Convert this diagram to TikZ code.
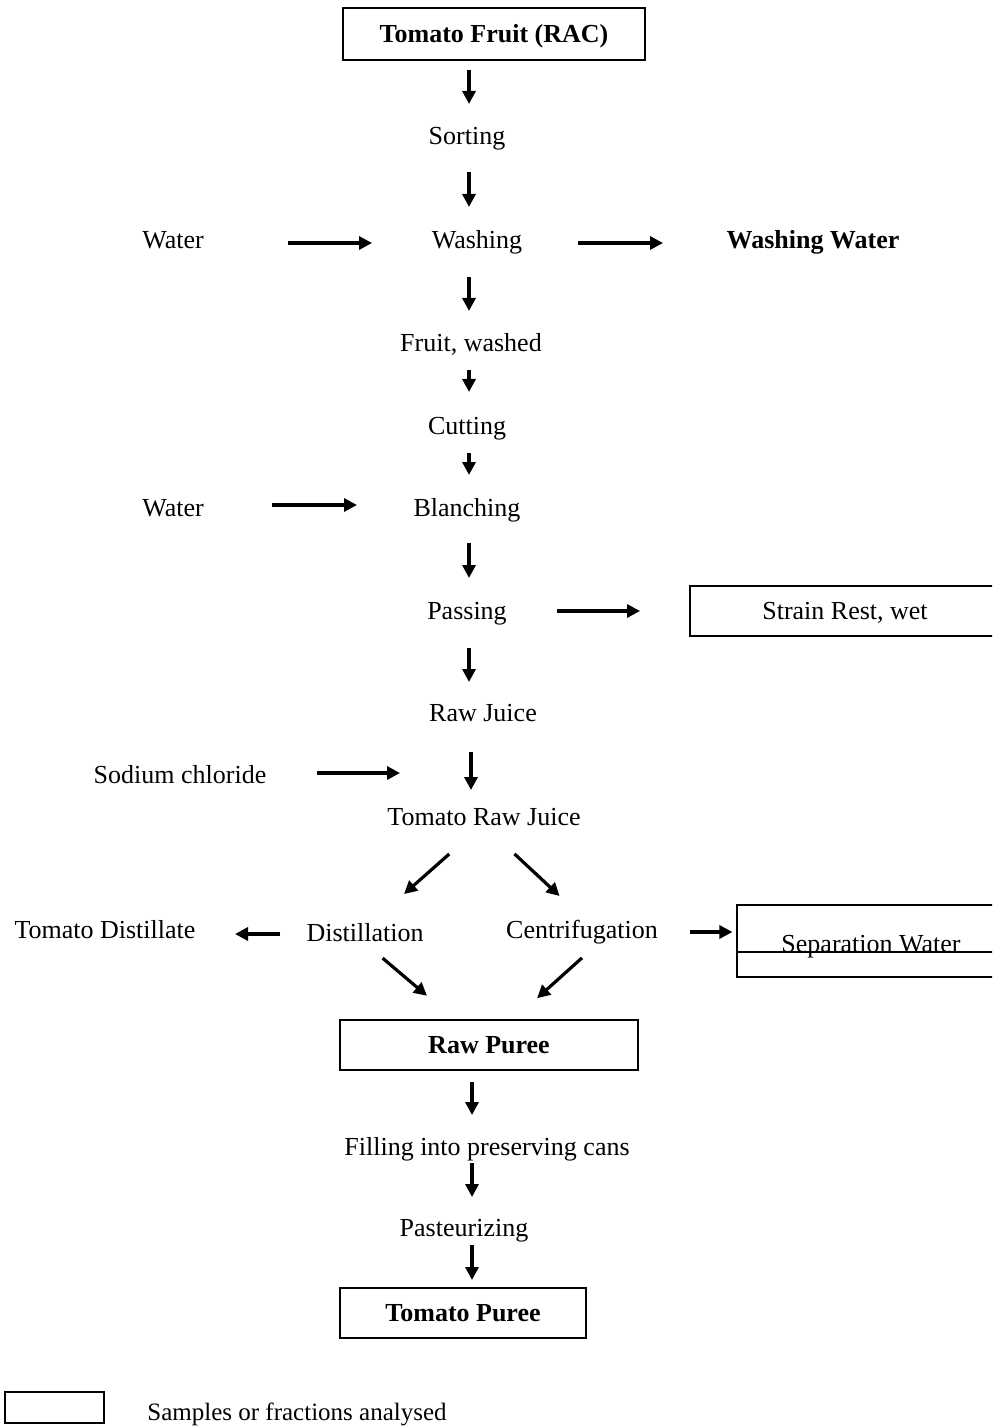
\documentclass[tikz,border=0pt]{standalone}
\usepackage{fontspec}
\setmainfont{Liberation Serif}
\usetikzlibrary{arrows.meta,calc}
\begin{document}
\begin{tikzpicture}[x=0.5pt,y=-0.5pt,
  every node/.style={font=\fontsize{13}{15}\selectfont, inner sep=0pt,
    text height=8.7pt, text depth=0pt},
  strong/.style={font=\fontsize{13}{15}\selectfont\bfseries},
  sample/.style={draw, line width=1pt},
  arr/.style={line width=1.6pt, -{Triangle[length=6.5pt,width=6.5pt]}},
  sh/.style 2 args={shorten <=#1*0.5pt, shorten >=#2*0.5pt},
]
\useasboundingbox (0,0) rectangle (992,1427);
\clip (0,0) rectangle (992,1427);

% main line of process steps
\node[sample, strong, minimum width=151pt, minimum height=26pt] (fruitin) at (494,34) {Tomato Fruit (RAC)};
\node (sorting) at (467,136) {Sorting};
\node (washing) at (477,240) {Washing};
\node (waterA) at (173,240) {Water};
\node[strong] (washwater) at (813,240) {Washing Water};
\node (fruitw) at (471,343) {Fruit, washed};
\node (cutting) at (467,426) {Cutting};
\node (blanching) at (467,508) {Blanching};
\node (waterB) at (173,508) {Water};
\node (passing) at (467,611) {Passing};
\node[sample, minimum width=155pt, minimum height=25pt] (strain) at (845,611) {Strain Rest, wet};
\node (rawjuice) at (483,713) {Raw Juice};
\node (sodium) at (180,775) {Sodium chloride};
\node (tomraw) at (484,817) {Tomato Raw Juice};
\node (distil) at (365,933) {Distillation};
\node (centrif) at (582,930) {Centrifugation};
\node (distillate) at (105,930) {Tomato Distillate};
\node[draw, line width=0.6pt, minimum width=134pt, minimum height=36pt,
      text height=13pt, text depth=2pt] (sepwater) at (871,941) {Separation Water};
\node[sample, strong, minimum width=149pt, minimum height=25pt] (rawpuree) at (489,1045) {Raw Puree};
\node (filling) at (487,1147) {Filling into preserving cans};
\node (pasteur) at (464,1228) {Pasteurizing};
\node[sample, strong, minimum width=123pt, minimum height=25pt] (tompuree) at (463,1313) {Tomato Puree};

% legend
\node[sample, minimum width=49.5pt, minimum height=15.5pt] (legbox) at (54.5,1407.5) {};
\node[anchor=west, font=\fontsize{12.5}{15}\selectfont] (legtext) at (147,1412) {Samples or fractions analysed};

% columns of the vertical arrows
\coordinate (spineA) at (469,0);
\coordinate (spineB) at (471,0);
\coordinate (spineC) at (472,0);
\coordinate (join) at (471,773);

% vertical flow
\draw[arr, sh={36}{32}] (fruitin.center -| spineA) -- (sorting.center -| spineA);
\draw[arr, sh={36}{33}] (sorting.center -| spineA) -- (washing.center -| spineA);
\draw[arr, sh={37}{32}] (washing.center -| spineA) -- (fruitw.center -| spineA);
\draw[arr, sh={27}{34}] (fruitw.center -| spineA) -- (cutting.center -| spineA);
\draw[arr, sh={27}{33}] (cutting.center -| spineA) -- (blanching.center -| spineA);
\draw[arr, sh={35}{33}] (blanching.center -| spineA) -- (passing.center -| spineA);
\draw[arr, sh={37}{31}] (passing.center -| spineA) -- (rawjuice.center -| spineA);
\draw[arr, sh={39}{27}] (rawjuice.center -| spineB) -- (tomraw.center -| spineB);
\draw[arr, sh={37}{32}] (rawpuree.center -| spineC) -- (filling.center -| spineC);
\draw[arr, sh={16}{31}] (filling.center -| spineC) -- (pasteur.center -| spineC);
\draw[arr, sh={17}{33}] (pasteur.center -| spineC) -- (tompuree.center -| spineC);

% side inputs and outputs
\draw[arr, sh={115}{105}] ([yshift=-1.5pt]waterA.center) -- ([yshift=-1.5pt]washing.center);
\draw[arr, sh={101}{150}] ([yshift=-1.5pt]washing.center) -- ([yshift=-1.5pt]washwater.center);
\draw[arr, sh={99}{110}] ([yshift=1.5pt]waterB.center) -- ([yshift=1.5pt]blanching.center);
\draw[arr, sh={90}{49}] (passing.center) -- (passing.center -| strain.west);
\draw[arr, sh={137}{71}] ([yshift=1pt]sodium.center) -- ([yshift=1pt]sodium.center -| join);
\draw[arr, sh={85}{130}] ([yshift=-0.5pt]distil.center) -- ([yshift=-0.5pt]distil.center -| distillate.center);
\draw[arr, sh={108}{4}] ([yshift=-1pt]centrif.center) -- ([yshift=-1pt]centrif.center -| sepwater.west);
\draw[line width=0.6pt] ([yshift=-5.5pt]sepwater.west) -- ([yshift=-5.5pt]sepwater.east);

% split and merge
\draw[arr, sh={55.8}{58.8}] ([xshift=3.5pt]tomraw.center) -- ([xshift=-2.5pt]distil.center);
\draw[arr, sh={54}{49.8}] ([xshift=-4.5pt]tomraw.center) -- ([xshift=7pt]centrif.center);
\draw[arr, sh={38.8}{76.1}] ([xshift=-6pt]distil.center) -- ([xshift=-2pt]rawpuree.center);
\draw[arr, sh={41.7}{70}] ([xshift=15.5pt]centrif.center) -- ([xshift=-2pt]rawpuree.center);
\end{tikzpicture}
\end{document}
